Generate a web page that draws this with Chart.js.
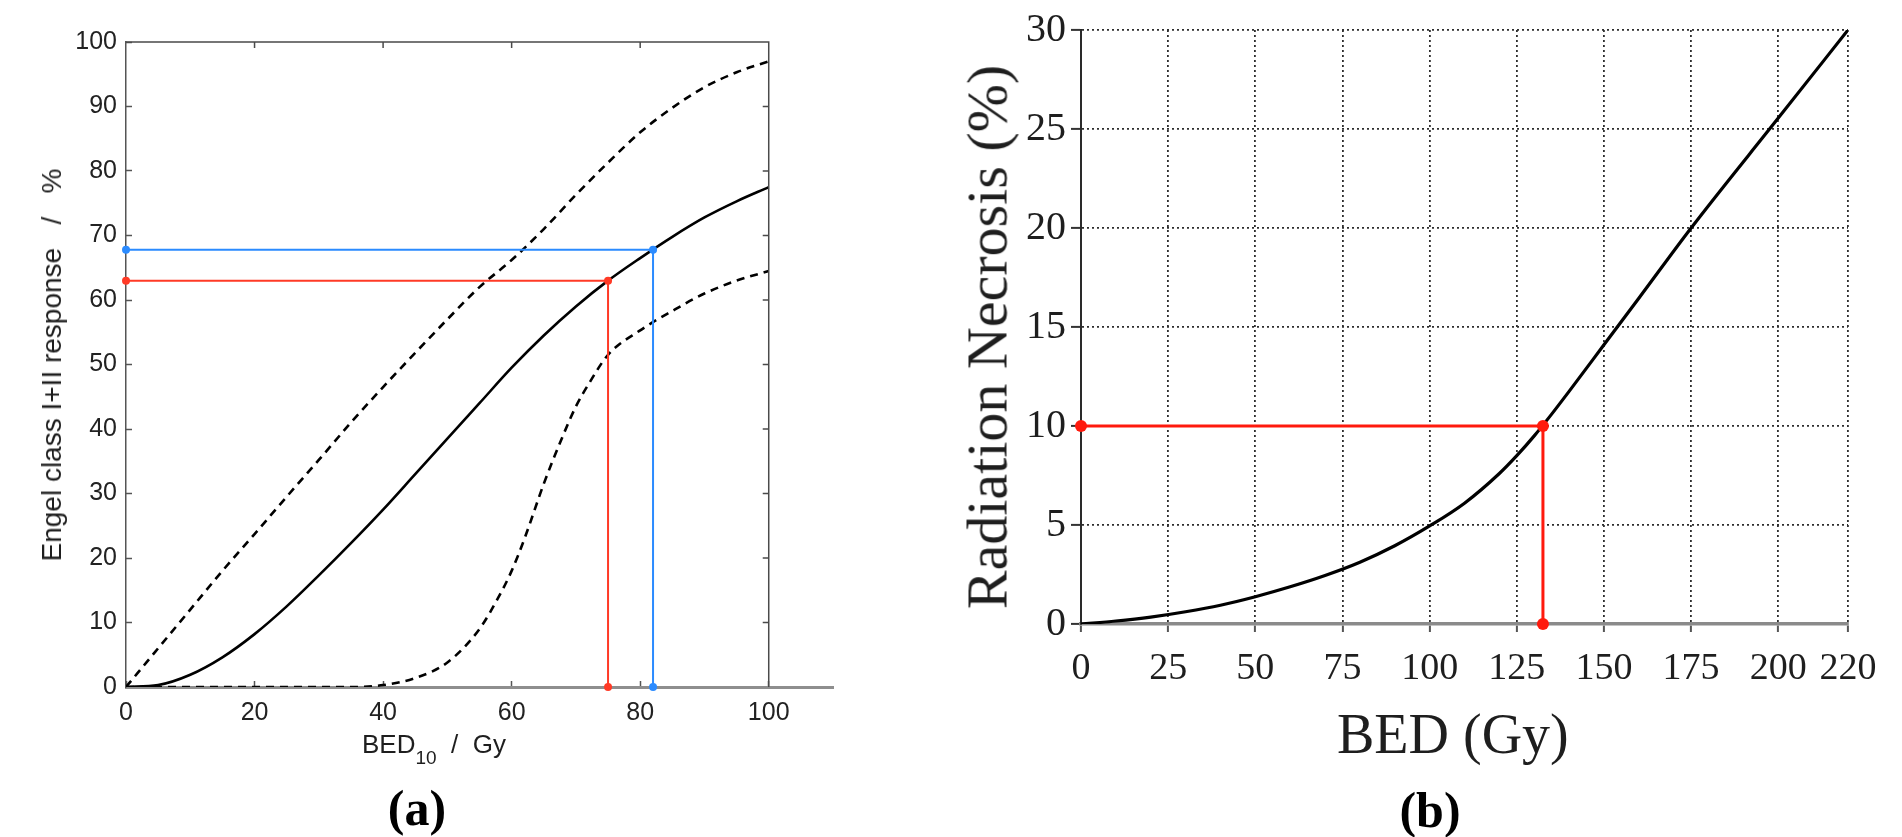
<!DOCTYPE html>
<html>
<head>
<meta charset="utf-8">
<script src="https://cdn.jsdelivr.net/npm/chart.js@4.4.1/dist/chart.umd.min.js"></script>
<style>
  body { margin: 0; background: #fff; overflow: hidden; }
  #lienzo { position: relative; width: 1902px; height: 837px; background: #fff; }
  canvas { position: absolute; top: 0; }
  .txt { position: absolute; white-space: pre; line-height: 1; color: #1e1e1e; }
  .centro { transform: translate(-50%, -50%); }
  .vertical { transform: translate(-50%, -50%) rotate(-90deg); }
</style>
</head>
<body>
<div id="lienzo">
  <canvas id="graficoA" width="880" height="837" style="left:0;width:880px;height:837px"></canvas>
  <canvas id="graficoB" width="1022" height="837" style="left:880px;width:1022px;height:837px"></canvas>

  <div class="txt vertical" style="left:52px;top:365px;font:28px 'Liberation Sans'">Engel class I+II response   /   %</div>
  <div class="txt" style="left:362px;top:729px;font:26px 'Liberation Sans'">BED<span style="font-size:19px;position:relative;top:11px">10</span>  /  Gy</div>
  <div class="txt centro" style="left:417px;top:808px;font:bold 50px 'Liberation Serif';color:#000">(a)</div>

  <div class="txt vertical" style="left:987px;top:337px;font:58px 'Liberation Serif'">Radiation Necrosis (%)</div>
  <div class="txt" style="left:1337px;top:702px;font:56px 'Liberation Serif'">BED (Gy)</div>
  <div class="txt centro" style="left:1430px;top:810px;font:bold 50px 'Liberation Serif';color:#000">(b)</div>
</div>

<script>
// ---- Datos panel (a): respuesta Engel I+II vs BED10 ----
const bedA = [0, 5, 10, 15, 20, 25, 30, 35, 40, 45, 50, 55, 60, 65, 70, 75, 80, 85, 90, 95, 100];
const engelAjuste = [0, 0.3, 1.9, 4.6, 8.2, 12.5, 17.3, 22.3, 27.5, 33, 38.5, 44, 49.5, 54.5, 59, 63, 66.5, 69.8, 72.8, 75.3, 77.5];
const engelSuperior = [0, 6, 12, 18, 23.7, 29.5, 35.2, 41, 46.5, 51.8, 57, 62, 66.2, 71, 76.3, 81.3, 86, 89.8, 93, 95.3, 97];
const bedInferior = [0, 10, 20, 30, 35, 40, 45, 50, 55, 58, 60, 62, 65, 68, 70, 72, 75, 80, 85, 90, 95, 100];
const engelInferior = [0, 0, 0, 0, 0, 0.3, 1.4, 3.8, 9, 14, 18, 23, 31.5, 39, 43.5, 47, 51.5, 55.3, 58.3, 61, 63, 64.5];

// lineas de lectura (rojo y azul)
const rojoA_x = [0, 75, 75];
const rojoA_y = [63, 63, 0];
const azulA_x = [0, 82, 82];
const azulA_y = [67.8, 67.8, 0];

const ticksAX = [0, 20, 40, 60, 80, 100];
const ticksAY = [0, 10, 20, 30, 40, 50, 60, 70, 80, 90, 100];

// ---- Datos panel (b): necrosis por radiacion vs BED ----
const bedB = [0, 10, 20, 30, 40, 50, 60, 70, 80, 90, 100, 110, 120, 125, 130, 135, 140, 150, 160, 175, 200, 220];
const necrosis = [0, 0.15, 0.35, 0.62, 0.95, 1.38, 1.88, 2.45, 3.12, 3.95, 4.95, 6.1, 7.6, 8.5, 9.5, 10.6, 11.75, 14.1, 16.45, 20, 25.55, 30];

const rojoB_x = [0, 132.5, 132.5];
const rojoB_y = [10, 10, 0];

const ticksBX = [0, 25, 50, 75, 100, 125, 150, 175, 200, 220];
const ticksBY = [0, 5, 10, 15, 20, 25, 30];

// juntar x e y en puntos
function puntos(xs, ys) {
    return xs.map((x, i) => ({ x: x, y: ys[i] }));
}

// marco superior y derecho del panel (a) con marcas hacia dentro
const marcoA = {
    id: 'marcoA',
    afterDraw(chart) {
        const ctx = chart.ctx;
        const sx = chart.scales.x;
        const sy = chart.scales.y;
        const x0 = sx.getPixelForValue(0);
        const x100 = sx.getPixelForValue(100);
        const yTop = sy.getPixelForValue(100);
        const yBot = sy.getPixelForValue(0);
        ctx.save();
        ctx.strokeStyle = '#4a4a4a';
        ctx.lineWidth = 1.5;
        ctx.beginPath();
        ctx.moveTo(x0, yTop);
        ctx.lineTo(x100, yTop);
        ctx.lineTo(x100, yBot);
        ctx.stroke();
        ctx.beginPath();
        ticksAX.slice(1, -1).forEach(v => {
            const px = sx.getPixelForValue(v);
            ctx.moveTo(px, yTop);
            ctx.lineTo(px, yTop + 6);
        });
        ticksAY.slice(1, -1).forEach(v => {
            const py = sy.getPixelForValue(v);
            ctx.moveTo(x100, py);
            ctx.lineTo(x100 - 6, py);
        });
        ctx.stroke();
        ctx.restore();
    }
};

Chart.defaults.font.family = 'Liberation Sans';
Chart.defaults.color = '#222';

const graficoA = new Chart(document.getElementById('graficoA').getContext('2d'), {
    type: 'line',
    data: {
        datasets: [
            {
                data: puntos(azulA_x, azulA_y),
                borderColor: '#2b8bff', backgroundColor: '#2b8bff',
                borderWidth: 2, pointRadius: 4, pointBorderWidth: 0, tension: 0, clip: false
            },
            {
                data: puntos(rojoA_x, rojoA_y),
                borderColor: '#ff3a26', backgroundColor: '#ff3a26',
                borderWidth: 2, pointRadius: 4, pointBorderWidth: 0, tension: 0, clip: false
            },
            {
                data: puntos(bedA, engelAjuste),
                borderColor: '#000', borderWidth: 2.6, pointRadius: 0,
                cubicInterpolationMode: 'monotone'
            },
            {
                data: puntos(bedA, engelSuperior),
                borderColor: '#000', borderWidth: 2.6, borderDash: [8, 6], pointRadius: 0,
                cubicInterpolationMode: 'monotone'
            },
            {
                data: puntos(bedInferior, engelInferior),
                borderColor: '#000', borderWidth: 2.6, borderDash: [8, 6], pointRadius: 0,
                cubicInterpolationMode: 'monotone'
            }
        ]
    },
    options: {
        responsive: false,
        devicePixelRatio: 1,
        animation: false,
        layout: { padding: { left: 0, top: 42, right: 47, bottom: 0 } },
        plugins: { legend: { display: false }, tooltip: { enabled: false } },
        scales: {
            x: {
                type: 'linear', min: 0, max: 110,
                afterBuildTicks: s => { s.ticks = ticksAX.map(v => ({ value: v })); },
                afterFit: s => { s.height = 150; s.paddingLeft = 0; s.paddingRight = 0; },
                grid: { drawOnChartArea: false, drawTicks: true, tickLength: -6, tickColor: '#555', tickWidth: 1.5 },
                border: { color: '#8e8e8e', width: 3 },
                ticks: { padding: 17, font: { size: 25 }, color: '#222', maxRotation: 0, autoSkip: false }
            },
            y: {
                type: 'linear', min: 0, max: 100,
                afterBuildTicks: s => { s.ticks = ticksAY.map(v => ({ value: v })); },
                afterFit: s => { s.width = 126; },
                grid: { drawOnChartArea: false, drawTicks: true, tickLength: -6, tickColor: '#555', tickWidth: 1.5 },
                border: { color: '#555', width: 1.5 },
                ticks: { padding: 15, font: { size: 25 }, color: '#222', autoSkip: false }
            }
        }
    },
    plugins: [marcoA]
});

const graficoB = new Chart(document.getElementById('graficoB').getContext('2d'), {
    type: 'line',
    data: {
        datasets: [
            {
                data: puntos(rojoB_x, rojoB_y),
                borderColor: '#ff1a0d', backgroundColor: '#ff1a0d',
                borderWidth: 3, pointRadius: 6, pointBorderWidth: 0, tension: 0, clip: false
            },
            {
                data: puntos(bedB, necrosis),
                borderColor: '#000', borderWidth: 3.2, pointRadius: 0,
                cubicInterpolationMode: 'monotone'
            }
        ]
    },
    options: {
        responsive: false,
        devicePixelRatio: 1,
        animation: false,
        layout: { padding: { left: 0, top: 30, right: 54, bottom: 0 } },
        plugins: { legend: { display: false }, tooltip: { enabled: false } },
        scales: {
            x: {
                type: 'linear', min: 0, max: 220,
                afterBuildTicks: s => { s.ticks = ticksBX.map(v => ({ value: v })); },
                afterFit: s => { s.height = 213; s.paddingLeft = 0; s.paddingRight = 0; },
                grid: { color: '#2e2e2e', lineWidth: 1.8, drawTicks: true, tickLength: 8, tickColor: '#555', tickWidth: 2 },
                border: { color: '#8a8a8a', width: 3.5, dash: [2, 3] },
                ticks: { padding: 14, font: { family: 'Liberation Serif', size: 38 }, color: '#1e1e1e', maxRotation: 0, autoSkip: false }
            },
            y: {
                type: 'linear', min: 0, max: 30,
                afterBuildTicks: s => { s.ticks = ticksBY.map(v => ({ value: v })); },
                afterFit: s => { s.width = 201; },
                grid: { color: '#2e2e2e', lineWidth: 1.8, drawTicks: true, tickLength: 10, tickColor: '#333', tickWidth: 2 },
                border: { color: '#2a2a2a', width: 2, dash: [2, 3] },
                ticks: { padding: 5, font: { family: 'Liberation Serif', size: 40 }, color: '#1e1e1e', autoSkip: false }
            }
        }
    }
});
</script>
</body>
</html>
